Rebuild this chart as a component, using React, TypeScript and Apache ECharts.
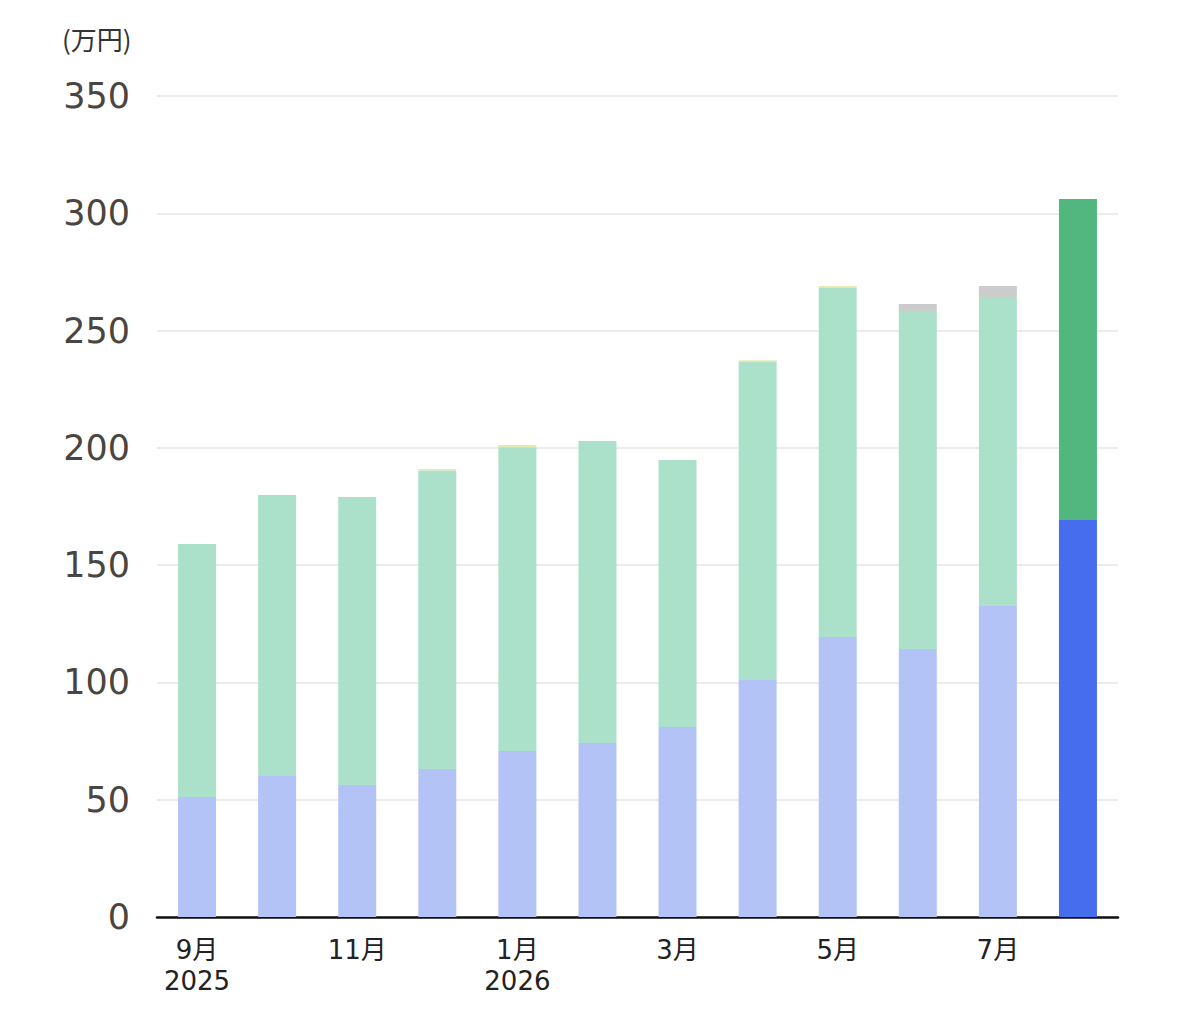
import React, { useEffect, useRef } from "react";
import * as echarts from "echarts";

const categories = ["9月\n2025", "10月", "11月", "12月", "1月\n2026", "2月", "3月", "4月", "5月", "6月", "7月", "8月"];
const blueValues = [51.2, 60.1, 56.3, 63.1, 70.8, 74.2, 81.0, 101.0, 119.4, 114.2, 132.6, 169.2];
const greenValues = [107.8, 119.8, 122.7, 127.3, 129.5, 128.7, 113.8, 135.6, 148.7, 144.1, 131.7, 136.9];
const yellowValues = [0, 0, 0, 0.6, 0.9, 0, 0, 0.8, 0.9, 0, 0, 0];
const grayValues = [0, 0, 0, 0, 0, 0, 0, 0, 0, 3.0, 4.7, 0];
const yTicks = [0, 50, 100, 150, 200, 250, 300, 350];
const highlightIndex = 11;

const FONT = "'DejaVu Sans', 'Noto Sans CJK JP', sans-serif";

export default function App() {
  const ref = useRef<HTMLDivElement>(null);
  useEffect(() => {
    if (!ref.current) return;
    const chart = echarts.init(ref.current, null, { renderer: "svg" });
    const mk = (vals: number[], light: string, dark: string) =>
      vals.map((v, i) => ({ value: v, itemStyle: { color: i === highlightIndex ? dark : light } }));
    chart.setOption({
      animation: false,
      grid: { left: 157, right: 61, top: 96, bottom: 109, containLabel: false },
      graphic: [
        { type: "text", left: 62, top: 25, style: { text: "(万円)", font: `26px 'Noto Sans CJK JP', sans-serif`, fill: "#333" } },
      ],
      xAxis: {
        type: "category",
        data: categories,
        axisLine: { lineStyle: { color: "#111", width: 2.5 } },
        axisTick: { show: false },
        axisLabel: {
          interval: 1,
          color: "#222",
          fontSize: 26,
          fontFamily: FONT,
          lineHeight: 31,
          margin: 17,
        },
      },
      yAxis: {
        type: "value",
        min: yTicks[0],
        max: yTicks[yTicks.length - 1],
        interval: 50,
        axisLine: { show: false },
        axisTick: { show: false },
        axisLabel: { color: "#4a4540", fontSize: 35, fontFamily: FONT, margin: 27 },
        splitLine: { lineStyle: { color: "#e6e6e2", width: 1.5 } },
      },
      series: [
        { name: "blue", type: "bar", stack: "a", barWidth: 38, data: mk(blueValues, "#b3c3f5", "#476def") },
        { name: "green", type: "bar", stack: "a", data: mk(greenValues, "#abe1cb", "#52b77f") },
        { name: "yellow", type: "bar", stack: "a", data: mk(yellowValues, "#e6e8b0", "#e6e8b0") },
        { name: "gray", type: "bar", stack: "a", data: mk(grayValues, "#cccccc", "#cccccc") },
      ],
    });
    return () => chart.dispose();
  }, []);
  return <div ref={ref} style={{ position: "fixed", left: 0, top: 0, width: 1179, height: 1026, background: "#fff" }} />;
}
